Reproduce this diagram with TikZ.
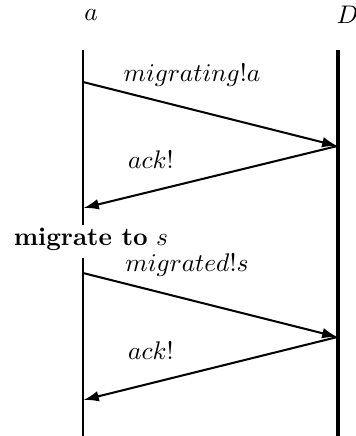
\documentclass[tikz,border=0pt]{standalone}
\usetikzlibrary{arrows.meta}
\begin{document}
\begin{tikzpicture}[x=0.393pt,y=0.393pt,
  lifeline/.style={line width=0.85pt},
  lifelineD/.style={line width=1.2pt},
  msg/.style={line width=0.8pt,-{Latex[length=6pt,width=4.2pt]}},
  lbl/.style={inner sep=0pt}]
\useasboundingbox (0,0) rectangle (355,-436);
% participant labels
\node[lbl] (pa) at (91,-15) {$a$};
\node[lbl,anchor=west] (pD) at (336,-15) {$D$};
% lifelines
\coordinate (atop) at (83,-50);
\coordinate (abreak) at (83,-225);
\coordinate (aresume) at (83,-258);
\coordinate (abot) at (83,-436);
\coordinate (dtop) at (338,-50);
\coordinate (dbot) at (338,-436);
\draw[lifeline] (atop) -- (abreak);
\draw[lifeline] (aresume) -- (abot);
\draw[lifelineD] (dtop) -- (dbot);
% message points
\coordinate (a1) at (83,-82);
\coordinate (d1) at (337.4,-146);
\coordinate (a2) at (83.5,-208);
\coordinate (a3) at (83,-273);
\coordinate (d3) at (337.4,-337);
\coordinate (a4) at (83.5,-400);
\draw[msg] (a1) -- (d1);
\draw[msg] (d1) -- (a2);
\draw[msg] (a3) -- (d3);
\draw[msg] (d3) -- (a4);
% labels
\node[lbl] (m1) at (192,-75) {$migrating!a$};
\node[lbl] (k1) at (151,-160) {$ack!$};
\node[lbl] (mig) at (91,-239) {\textbf{migrate to} $s$};
\node[lbl] (m2) at (187,-265) {$migrated!s$};
\node[lbl] (k2) at (151,-351) {$ack!$};
\end{tikzpicture}
\end{document}
